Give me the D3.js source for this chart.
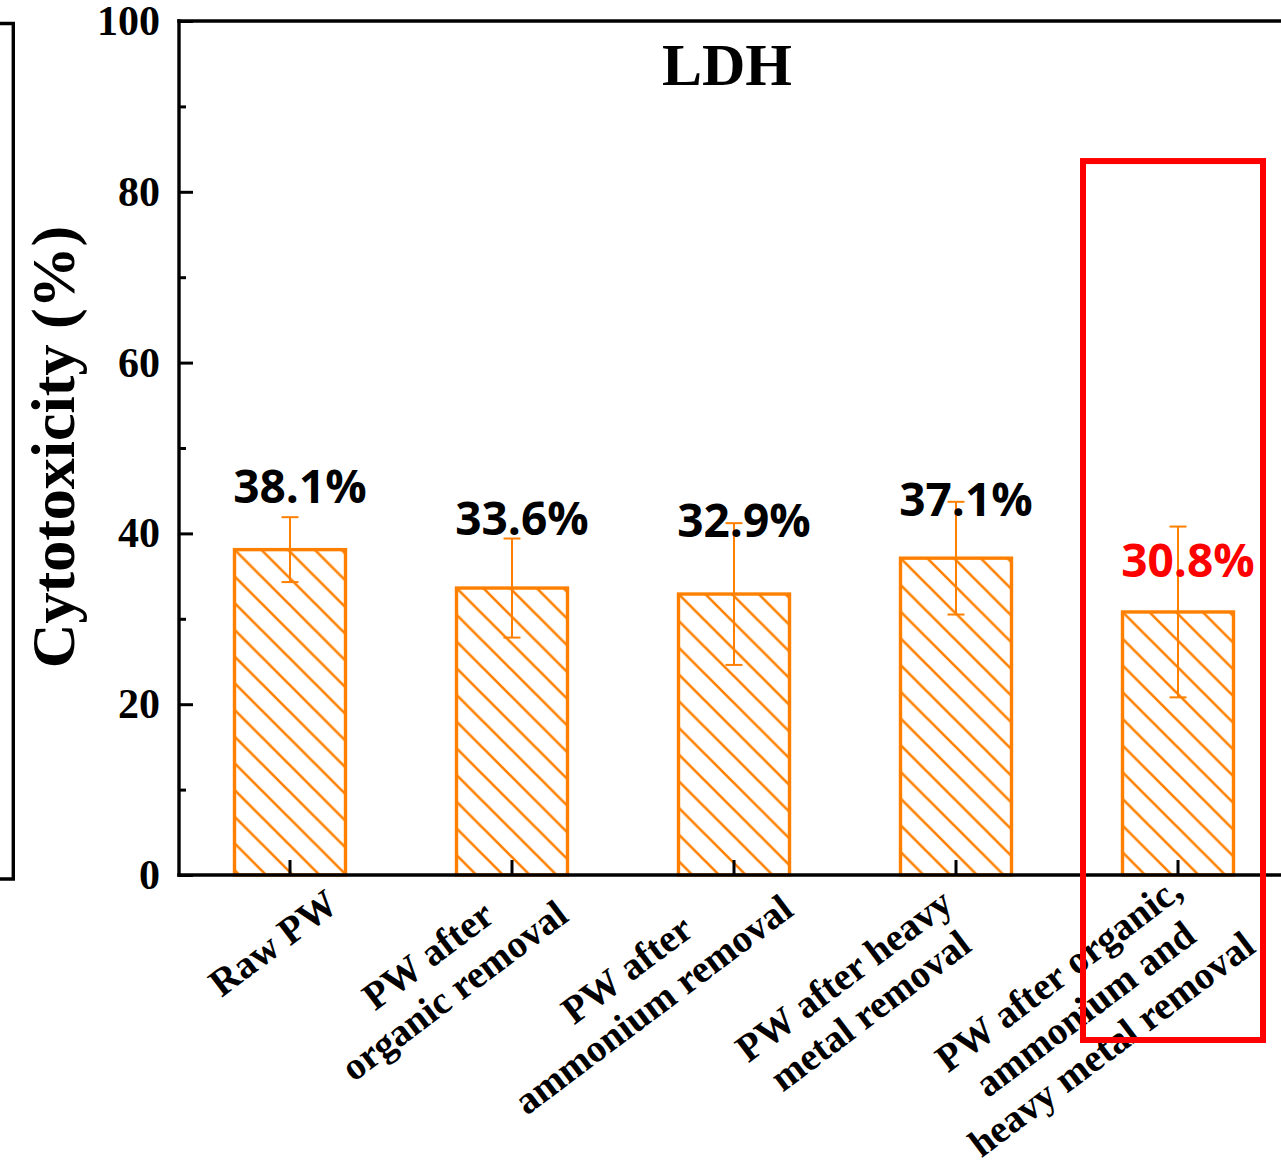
<!DOCTYPE html>
<html>
<head>
<meta charset="utf-8">
<script src="https://cdn.jsdelivr.net/npm/d3@7"></script>
<style>
  html, body { margin: 0; padding: 0; background: #fff; }
  svg { display: block; }
</style>
</head>
<body>
<svg id="chart" width="1281" height="1173"></svg>
<script>
// ---- data ----
const categories = [
  "Raw PW",
  "PW after\norganic removal",
  "PW after\nammonium removal",
  "PW after heavy\nmetal removal",
  "PW after organic,\nammonium and\nheavy metal removal"
];
const values = [38.1, 33.6, 32.9, 37.1, 30.8];
const errors = [3.8, 5.8, 8.3, 6.6, 10.0];
const valueLabels = ["38.1%", "33.6%", "32.9%", "37.1%", "30.8%"];
const labelAt = [43.6, 39.8, 39.6, 42.0, 34.9];   // annotation baselines, data units
const yTicks = [0, 20, 40, 60, 80, 100];
const yMinorTicks = [10, 30, 50, 70, 90];
const highlightIndex = 4;
const title = "LDH";
const yTitle = "Cytotoxicity (%)";

// ---- layout ----
const ORANGE = "#FF8000", RED = "#FF0000";
const catOffsets = [[-17, 68], [-71, 98], [-94, 112], [-99, 118], [-93, 134]];
const svg = d3.select("#chart");
const x = d3.scaleBand().domain(categories).range([179, 1289]).padding(0);
const y = d3.scaleLinear().domain([0, 100]).range([875, 21]);
const barW = x.bandwidth() * 0.5;

// partial frame of neighbouring panel
svg.append("path").attr("d", "M0,23.5H13.3V879H0")
  .attr("fill", "none").attr("stroke", "#000").attr("stroke-width", 3.4);

// hatch patterns (anchored at each bar's top-left corner)
const defs = svg.append("defs");
const S = 26.7;
values.forEach((v, i) => {
  const bx = x(categories[i]) + x.bandwidth() / 2 - barW / 2;
  const p = defs.append("pattern").attr("id", "hatch" + i)
    .attr("patternUnits", "userSpaceOnUse")
    .attr("x", bx).attr("y", y(v)).attr("width", S).attr("height", S);
  p.append("path")
    .attr("d", `M0,0L${S},${S}M${-S/2},${S/2}L${S/2},${S*1.5}M${S/2},${-S/2}L${S*1.5},${S/2}`)
    .attr("stroke", ORANGE).attr("stroke-width", 2.6).attr("fill", "none");
});

// bars
const g = svg.append("g");
g.selectAll("rect.bar").data(values).join("rect")
  .attr("class", "bar")
  .attr("x", (d, i) => x(categories[i]) + x.bandwidth() / 2 - barW / 2)
  .attr("y", d => y(d))
  .attr("width", barW)
  .attr("height", d => y(0) - y(d))
  .attr("fill", (d, i) => `url(#hatch${i})`)
  .attr("stroke", ORANGE).attr("stroke-width", 3.4);

// error bars
const capW = 17;
values.forEach((v, i) => {
  const cx = x(categories[i]) + x.bandwidth() / 2;
  const e = g.append("g").attr("stroke", ORANGE).attr("stroke-width", 2);
  e.append("line").attr("x1", cx).attr("x2", cx).attr("y1", y(v + errors[i])).attr("y2", y(v - errors[i]));
  e.append("line").attr("x1", cx - capW/2).attr("x2", cx + capW/2).attr("y1", y(v + errors[i])).attr("y2", y(v + errors[i]));
  e.append("line").attr("x1", cx - capW/2).attr("x2", cx + capW/2).attr("y1", y(v - errors[i])).attr("y2", y(v - errors[i]));
});

// axes lines
const ax = svg.append("g").attr("stroke", "#000").attr("fill", "none");
ax.append("line").attr("x1", 179).attr("x2", 179).attr("y1", 19.3).attr("y2", 876.7).attr("stroke-width", 3.4);
ax.append("line").attr("x1", 177.3).attr("x2", 1281).attr("y1", y(0)).attr("y2", y(0)).attr("stroke-width", 3.6);
ax.append("line").attr("x1", 177.3).attr("x2", 1281).attr("y1", y(100)).attr("y2", y(100)).attr("stroke-width", 3.4);

// y ticks (inward)
const yAxis = d3.axisRight(y).tickValues(yTicks).tickSize(14).tickFormat("");
const yg = svg.append("g").attr("transform", "translate(179,0)").call(yAxis);
yg.select(".domain").remove();
yg.selectAll(".tick line").attr("stroke", "#000").attr("stroke-width", 3);
const yMinor = d3.axisRight(y).tickValues(yMinorTicks).tickSize(7).tickFormat("");
const ymg = svg.append("g").attr("transform", "translate(179,0)").call(yMinor);
ymg.select(".domain").remove();
ymg.selectAll(".tick line").attr("stroke", "#000").attr("stroke-width", 3);

// y tick labels
svg.append("g").selectAll("text").data(yTicks).join("text")
  .attr("x", 160).attr("y", d => y(d) + 14)
  .attr("text-anchor", "end")
  .attr("font-family", "'Liberation Serif', 'Times New Roman', serif")
  .attr("font-weight", "bold").attr("font-size", 42)
  .text(d => d);

// x ticks (inward)
const xAxis = d3.axisTop(x).tickSize(15).tickFormat("");
const xg = svg.append("g").attr("transform", `translate(0,${y(0)})`).call(xAxis);
xg.select(".domain").remove();
xg.selectAll(".tick line").attr("stroke", "#000").attr("stroke-width", 3);

// category labels (rotated, centred lines)
categories.forEach((c, i) => {
  const cx = x(c) + x.bandwidth() / 2;
  const lines = c.split("\n");
  const lh = 44;
  const t = svg.append("text")
    .attr("transform", `translate(${cx + catOffsets[i][0]},${y(0) + catOffsets[i][1]}) rotate(-37)`)
    .attr("text-anchor", "middle")
    .attr("font-family", "'Liberation Serif', 'Times New Roman', serif")
    .attr("font-weight", "bold").attr("font-size", 39);
  lines.forEach((ln, j) => {
    t.append("tspan").attr("x", 0).attr("y", (j - (lines.length - 1) / 2) * lh + 13).text(ln);
  });
});

// value labels
svg.append("g").selectAll("text").data(valueLabels).join("text")
  .attr("x", (d, i) => x(categories[i]) + x.bandwidth() / 2 + 10)
  .attr("y", (d, i) => y(labelAt[i]))
  .attr("text-anchor", "middle")
  .attr("font-family", "'Open Sans', 'Noto Sans', sans-serif")
  .attr("font-weight", "bold").attr("font-size", 46)
  .attr("fill", (d, i) => i === highlightIndex ? RED : "#000")
  .text(d => d);

// title
svg.append("text").attr("x", 727).attr("y", 85)
  .attr("text-anchor", "middle")
  .attr("font-family", "'Liberation Serif', 'Times New Roman', serif")
  .attr("font-weight", "bold").attr("font-size", 60)
  .text(title);

// y-axis title
svg.append("text").attr("transform", "translate(74,447) rotate(-90)")
  .attr("text-anchor", "middle")
  .attr("font-family", "'Liberation Serif', 'Times New Roman', serif")
  .attr("font-weight", "bold").attr("font-size", 62)
  .text(yTitle);

// highlight box
const hx = x(categories[highlightIndex]);
svg.append("rect")
  .attr("x", hx + 16).attr("y", y(83.6))
  .attr("width", x.bandwidth() - 42).attr("height", 1040 - y(83.6))
  .attr("fill", "none").attr("stroke", RED).attr("stroke-width", 6);
</script>
</body>
</html>
